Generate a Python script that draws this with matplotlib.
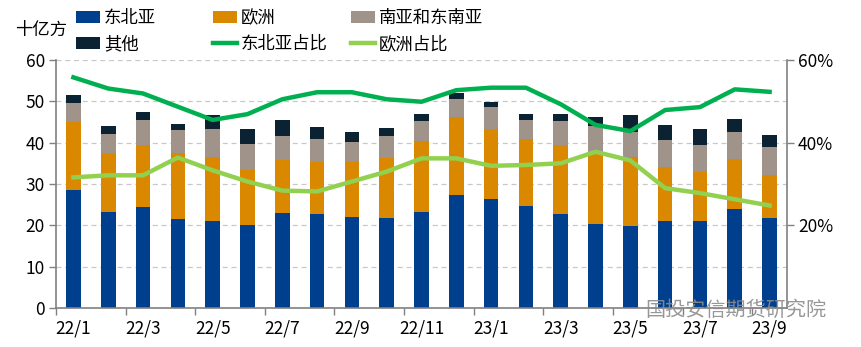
import numpy as np
import matplotlib
matplotlib.use("Agg")
import matplotlib.pyplot as plt
from matplotlib.ticker import FuncFormatter, MultipleLocator

plt.rcParams['font.family'] = ['Noto Sans CJK SC', 'DejaVu Sans']

months = ['22/1', '22/2', '22/3', '22/4', '22/5', '22/6', '22/7', '22/8', '22/9', '22/10',
          '22/11', '22/12', '23/1', '23/2', '23/3', '23/4', '23/5', '23/6', '23/7', '23/8', '23/9']

# 累计值(顶端)读自图
top_ne_asia = [28.6, 23.3, 24.5, 21.6, 21.1, 20.1, 23.0, 22.8, 22.1, 21.8, 23.3,
               27.4, 26.4, 24.7, 22.8, 20.4, 19.9, 21.1, 21.1, 24.0, 21.8]
top_europe = [45.1, 37.5, 39.5, 37.5, 36.6, 33.5, 35.9, 35.4, 35.4, 36.4, 40.3,
              46.2, 43.3, 40.9, 39.5, 37.4, 36.6, 34.0, 33.0, 36.1, 32.2]
top_sea = [49.7, 42.1, 45.5, 43.1, 43.3, 39.7, 41.6, 40.9, 40.2, 41.6, 45.2,
           50.6, 48.6, 45.5, 45.2, 44.0, 42.7, 40.7, 39.5, 42.6, 39.0]
top_other = [51.5, 44.0, 47.3, 44.5, 46.7, 43.3, 45.5, 43.8, 42.6, 43.6, 46.9,
             52.1, 49.8, 46.9, 46.9, 46.3, 46.7, 44.3, 43.3, 45.7, 41.9]

ne_share = [55.8, 53.1, 51.9, 48.7, 45.5, 46.9, 50.5, 52.2, 52.2, 50.5, 49.9,
            52.7, 53.3, 53.3, 49.3, 44.3, 42.8, 47.9, 48.6, 52.9, 52.3]
eu_share = [31.6, 32.1, 32.1, 36.4, 33.3, 30.6, 28.4, 28.2, 30.6, 33.0, 36.2,
            36.2, 34.4, 34.6, 35.0, 37.8, 35.7, 29.0, 27.8, 26.3, 24.8]

ne_asia = np.array(top_ne_asia)
europe = np.array(top_europe) - np.array(top_ne_asia)
sea = np.array(top_sea) - np.array(top_europe)
other = np.array(top_other) - np.array(top_sea)

c_blue = '#003F8E'
c_orange = '#D98800'
c_gray = '#A0938A'
c_dark = '#0B2233'
c_green = '#00B050'
c_lgreen = '#92D050'

fig = plt.figure(figsize=(8.62, 3.47), dpi=100)
ax = fig.add_axes([56 / 862, 1 - 308 / 347, (787 - 56) / 862, (308 - 60) / 347])
x = np.arange(len(months))
w = 0.42

b1 = ax.bar(x, ne_asia, w, color=c_blue, zorder=2)
b2 = ax.bar(x, europe, w, bottom=ne_asia, color=c_orange, zorder=2)
b3 = ax.bar(x, sea, w, bottom=ne_asia + europe, color=c_gray, zorder=2)
b4 = ax.bar(x, other, w, bottom=ne_asia + europe + sea, color=c_dark, zorder=2)

ax.set_ylim(0, 60)
ax.set_xlim(-0.5, len(months) - 0.5)
ax.yaxis.set_major_locator(MultipleLocator(10))
ax.grid(axis='y', color='#C8C8C8', linestyle=(0, (4, 3)), linewidth=0.9, zorder=0)
ax.set_axisbelow(True)

ax.set_xticks(x[::2])
ax.set_xticklabels(months[::2], fontsize=12.5)
ax.set_xticks(np.arange(-0.5, len(months), 2), minor=True)
ax.tick_params(axis='x', which='major', length=0, pad=8)
ax.tick_params(axis='x', which='minor', length=5, color='#808080', width=1)
ax.tick_params(axis='y', labelsize=12.5, length=5, color='#808080', width=1, pad=3)

for s in ['top', 'right']:
    ax.spines[s].set_visible(False)
for s in ['left', 'bottom']:
    ax.spines[s].set_color('#808080')
    ax.spines[s].set_linewidth(1.2)

ax2 = ax.twinx()
l1, = ax2.plot(x, ne_share, color=c_green, linewidth=3.2, zorder=3)
l2, = ax2.plot(x, eu_share, color=c_lgreen, linewidth=3.2, zorder=3)
ax2.set_ylim(0, 60)
ax2.set_yticks([20, 40, 60])
ax2.yaxis.set_major_formatter(FuncFormatter(lambda v, p: f'{v:.0f}%'))
ax2.tick_params(axis='y', labelsize=12.5, length=5, color='#808080', width=1, pad=3)
for s in ['top', 'left', 'bottom']:
    ax2.spines[s].set_visible(False)
ax2.spines['right'].set_color('#808080')
ax2.spines['right'].set_linewidth(1.2)

fig.text(15 / 862, 1 - 30 / 347, '十亿方', fontsize=12.5, va='center', ha='left')

# legend: three fixed columns
columns = [([b1, b4], ['东北亚', '其他'], 76),
           ([b2, l1], ['欧洲', '东北亚占比'], 213),
           ([b3, l2], ['南亚和东南亚', '欧洲占比'], 351)]
for hs, ls, x0 in columns:
    leg = fig.legend(hs, ls, loc='upper left', bbox_to_anchor=(x0 / 862, 1 - 9 / 347),
                     frameon=False, fontsize=12.5, handlelength=1.4, handleheight=0.65,
                     handletextpad=0.2, labelspacing=0.45, borderaxespad=0, borderpad=0)

fig.text(645 / 862, 1 - 310 / 347, '国投安信期货研究院', fontsize=14.5, color='#8C8C8C',
         va='center', ha='left', alpha=0.9)

fig.savefig('out.png', dpi=100)
